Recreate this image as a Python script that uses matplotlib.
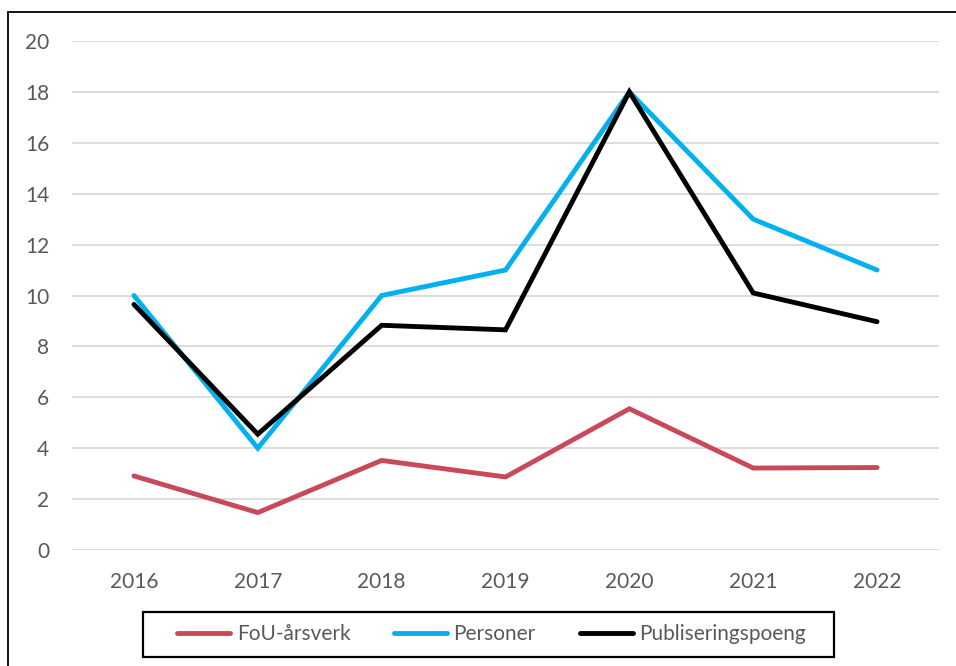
import matplotlib
matplotlib.use("Agg")
import matplotlib.pyplot as plt
from matplotlib.patches import Rectangle

years = ["2016", "2017", "2018", "2019", "2020", "2021", "2022"]
fou_arsverk = [2.91, 1.47, 3.52, 2.87, 5.55, 3.22, 3.24]
personer = [10, 4, 10, 11, 18, 13, 11]
publiseringspoeng = [9.65, 4.55, 8.83, 8.65, 18.0, 10.1, 8.97]
y_ticks = [0, 2, 4, 6, 8, 10, 12, 14, 16, 18, 20]

plt.rcParams["font.family"] = ["Lato", "DejaVu Sans"]

W, H = 956, 666
fig = plt.figure(figsize=(W / 100, H / 100), dpi=100)

# outer chart frame
fig.add_artist(Rectangle((8 / W, -0.05), 1.1, 1 - 12 / H + 0.05,
                         transform=fig.transFigure, fill=False,
                         edgecolor="black", linewidth=1.3, zorder=0))

ax = fig.add_axes([72 / W, 1 - 550 / H, (939 - 72) / W, (550 - 41) / H])
x = list(range(len(years)))

ax.plot(x, fou_arsverk, color="#C84A5A", lw=3.5, solid_joinstyle="miter",
        solid_capstyle="round", label="FoU-årsverk", zorder=3)
ax.plot(x, personer, color="#00B0F0", lw=3.5, solid_joinstyle="miter",
        solid_capstyle="round", label="Personer", zorder=3)
ax.plot(x, publiseringspoeng, color="black", lw=3.5, solid_joinstyle="miter",
        solid_capstyle="round", label="Publiseringspoeng", zorder=4)

ax.set_xlim(-0.5, len(years) - 0.5)
ax.set_ylim(0, 20)
ax.set_xticks(x)
ax.set_xticklabels(years)
ax.set_yticks(y_ticks)
ax.set_yticklabels([str(v) for v in y_ticks])
ax.tick_params(axis="both", length=0, labelsize=15, labelcolor="#595959")
ax.tick_params(axis="y", pad=16.5)
ax.tick_params(axis="x", pad=15.5)
ax.grid(axis="y", color="#D9D9D9", linewidth=1.3, zorder=0)
for s in ax.spines.values():
    s.set_visible(False)

# legend box, drawn separately for its wide inner padding
fig.add_artist(Rectangle((143 / W, 1 - 657 / H), (834 - 143) / W, 45 / H,
                         transform=fig.transFigure, fill=False,
                         edgecolor="black", linewidth=1.6, zorder=5))
leg = fig.legend(loc="center", bbox_to_anchor=(491.5 / W, 1 - 634 / H),
                 ncol=3, frameon=False, fontsize=15,
                 handlelength=2.55, handletextpad=0.3, columnspacing=2.1,
                 borderpad=0.0, borderaxespad=0)
for t in leg.get_texts():
    t.set_color("#595959")

fig.savefig("out.png", dpi=100)
